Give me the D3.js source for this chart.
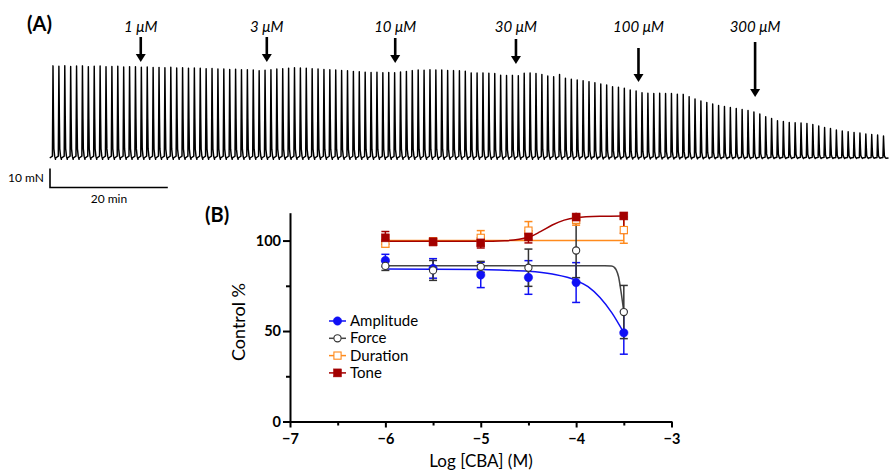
<!doctype html>
<html>
<head>
<meta charset="utf-8">
<script src="https://d3js.org/d3.v7.min.js"></script>
<style>
body {margin: 0; background: white;}
svg text {font-family: Lato, "Open Sans", sans-serif;}
</style>
</head>
<body>
<svg id="fig" width="890" height="473"></svg>
<script>
// ---------------- (A) trace data ----------------
// peak force of each contraction (mN), one per minute
var spikePeaks = [
  48.5, 48.3, 48.6, 48.2, 48.4, 48.5, 48.1, 48.3, 48.4, 48.0, 48.2, 48.3, 47.9, 48.1, 48.0,
  47.8, 47.9, 47.6, 47.7, 47.5, 47.8, 47.4, 47.5, 47.3, 47.4,
  47.2, 47.0, 47.1, 46.8, 46.9, 46.6, 46.7, 46.4, 46.5, 46.3,
  45.9, 46.2, 46.5, 46.8, 47.0, 47.3, 47.5, 47.4,
  47.2, 47.0, 46.8, 46.6, 46.5, 46.3, 46.1, 45.9,
  45.6, 45.4, 45.2, 45.0, 45.1, 44.9, 45.0, 44.9,
  45.3, 45.6, 46.0, 46.3, 46.2, 46.4, 46.3,
  46.3, 46.1, 46.0, 45.9, 45.7,
  44.8, 44.7, 44.8, 44.6, 44.5,
  43.6, 43.4, 43.5, 43.3,
  44.6, 44.7, 44.5, 44.0,
  43.2, 42.8, 44.0,
  42.0, 41.4, 41.1, 40.7,
  40.2, 39.6, 38.9, 38.4, 37.5,
  37.2, 36.7, 35.8, 35.3, 34.4,
  34.1, 34.0, 34.1, 33.9, 34.0,
  33.6,
  33.5, 32.3, 31.1, 30.0, 29.2, 28.4, 27.6, 27.1, 26.6, 26.1,
  25.5, 25.0, 24.2, 23.2, 21.7, 20.8, 19.6, 19.2, 18.7, 18.6,
  18.4, 18.2, 17.6, 16.8, 16.1, 15.5, 14.7, 14.2, 13.8, 13.4,
  13.2, 12.6, 12.4, 12.1, 11.6
];
var doseLabels = ["1 \u03bcM", "3 \u03bcM", "10 \u03bcM", "30 \u03bcM", "100 \u03bcM", "300 \u03bcM"];
var doseTimes = [14.9, 36.3, 58.1, 78.6, 99.4, 119.2];   // min

// ---------------- (B) concentration-response data ----------------
var logDose = [-6, -5.5, -5, -4.5, -4, -3.5];
var amplitudeMean = [89, 84.6, 81, 79.6, 76.8, 49];
var amplitudeSem  = [3.4, 5.4, 7, 9.3, 11, 11.8];
var forceMean = [86, 83.5, 85.5, 85, 94.5, 60.5];
var forceSem  = [2.5, 5.5, 3, 10.3, 15, 14.7];
var durationMean = [98.3, 99.5, 101.5, 105.5, 111.5, 105.8];
var durationSem  = [2, 2, 4, 5, 3, 7.3];
var toneMean = [101.5, 99.3, 98.7, 102, 113, 113.6];
var toneSem  = [3.5, 2, 2.8, 3.3, 2.5, 9.6];

// fitted curves
var amplitudeFitX = [-6, -5.5, -5, -4.75, -4.5, -4.25, -4, -3.875, -3.75, -3.625, -3.5];
var amplitudeFitY = [84.3, 84.2, 84.0, 83.6, 83.1, 81.5, 78, 74.5, 68.5, 60, 49];
var forceFitX = [-6, -3.7, -3.63, -3.6, -3.58, -3.555, -3.53, -3.5];
var forceFitY = [86.1, 86.1, 86.0, 85.2, 83.8, 80, 72, 60.5];
var durationFitX = [-6, -3.5];
var durationFitY = [100, 100];
var toneFitX = [-6, -5, -4.75, -4.5, -4.375, -4.25, -4.125, -4, -3.75, -3.5];
var toneFitY = [99.6, 99.6, 99.9, 101.8, 104.9, 108.6, 111.3, 112.6, 113.4, 113.6];

var yTicks = [0, 50, 100];
var yMinor = [25, 75];
var xTicks = [-7, -6, -5, -4, -3];
var xMinor = [-6.5, -5.5, -4.5, -3.5];

var svg = d3.select("#fig");

// ================= panel A =================
var xT = d3.scaleLinear().domain([0, spikePeaks.length - 1]).range([53, 883.5]);
var yT = d3.scaleLinear().domain([0, 10]).range([158, 139]);

// contraction shape around each peak (min offset, fraction of peak)
var shape = [[-0.55, 0], [-0.1, 0.02], [0, 1], [0.08, 0.45], [0.15, 0.1], [0.28, 0.02], [0.42, -0.015]];
var tracePts = [];
spikePeaks.forEach(function(p, i) {
  shape.forEach(function(s) { tracePts.push([i + s[0], p * s[1]]); });
});
tracePts.push([spikePeaks.length - 1 + 0.85, 0]);

svg.append("path")
  .attr("d", d3.line().x(function(d) { return xT(d[0]); }).y(function(d) { return yT(d[1]); })(tracePts))
  .attr("fill", "none")
  .attr("stroke", "#000")
  .attr("stroke-width", 1.45)
  .attr("stroke-linejoin", "round");

svg.append("text").attr("x", 27).attr("y", 31)
  .style("font-size", "20px").style("font-weight", "bold").text("(A)");

// dose arrows
var arrowTop = [37, 37, 38, 39, 48, 42];
var arrowTip = [62, 62, 63, 64, 82, 97];
doseTimes.forEach(function(t, i) {
  var ax = xT(t);
  svg.append("line").attr("x1", ax).attr("x2", ax)
    .attr("y1", arrowTop[i]).attr("y2", arrowTip[i] - 6)
    .attr("stroke", "#000").attr("stroke-width", 2.6);
  svg.append("path")
    .attr("d", "M" + (ax - 5) + "," + (arrowTip[i] - 8) + "L" + (ax + 5) + "," + (arrowTip[i] - 8) + "L" + ax + "," + arrowTip[i] + "Z")
    .attr("fill", "#000");
  svg.append("text").attr("x", ax).attr("y", 32)
    .attr("text-anchor", "middle")
    .style("font-size", "15px").style("font-style", "italic")
    .text(doseLabels[i]);
});

// scale bar
var sbX = 50, sbY = 187.5;
svg.append("path")
  .attr("d", "M" + sbX + "," + (sbY - (yT(0) - yT(10))) + "V" + sbY + "H" + (sbX + xT(20) - xT(0)))
  .attr("fill", "none").attr("stroke", "#000").attr("stroke-width", 1.6);
svg.append("text").attr("x", 44).attr("y", 182).attr("text-anchor", "end")
  .style("font-size", "12px").text("10 mN");
svg.append("text").attr("x", sbX + (xT(20) - xT(0)) / 2).attr("y", 203).attr("text-anchor", "middle")
  .style("font-size", "12px").text("20 min");

// ================= panel B =================
var xB = d3.scaleLinear().domain([-7, -3]).range([290, 671.5]);
var yB = d3.scaleLinear().domain([0, 115.4]).range([421.5, 212.7]);

svg.append("text").attr("x", 205).attr("y", 222)
  .style("font-size", "20px").style("font-weight", "bold").text("(B)");

var gy = svg.append("g").attr("transform", "translate(" + xB(-7) + ",0)");
gy.call(d3.axisLeft(yB).tickValues(yTicks).tickSize(7).tickSizeOuter(0).tickPadding(2).tickFormat(d3.format("d")));
gy.append("g").call(d3.axisLeft(yB).tickValues(yMinor).tickSize(4).tickFormat(""))
  .select(".domain").remove();
var gx = svg.append("g").attr("transform", "translate(0," + yB(0) + ")");
gx.call(d3.axisBottom(xB).tickValues(xTicks).tickSize(6).tickSizeOuter(0).tickPadding(6).tickFormat(d3.format("d")));
gx.append("g").call(d3.axisBottom(xB).tickValues(xMinor).tickSize(4).tickFormat(""))
  .select(".domain").remove();
svg.selectAll(".domain, .tick line").attr("stroke", "#000").attr("stroke-width", 2);
gy.selectAll("text").style("font-size", "14.5px").style("font-weight", "bold")
  .style("font-family", "Lato, sans-serif").attr("fill", "#000");
gx.selectAll("text").style("font-size", "14.5px").style("font-weight", "bold")
  .style("font-family", "Lato, sans-serif").attr("fill", "#000");

svg.append("text")
  .attr("transform", "translate(245,322) rotate(-90)")
  .attr("text-anchor", "middle").style("font-size", "18px").text("Control %");
svg.append("text").attr("x", 481).attr("y", 467)
  .attr("text-anchor", "middle").style("font-size", "17px").text("Log [CBA] (M)");

var series = [
  {name: "Amplitude", color: "#1010f5", line: "#1010f5", mean: amplitudeMean, sem: amplitudeSem, fx: amplitudeFitX, fy: amplitudeFitY, sym: "circle", fill: true},
  {name: "Force", color: "#333", line: "#444", mean: forceMean, sem: forceSem, fx: forceFitX, fy: forceFitY, sym: "circle", fill: false},
  {name: "Duration", color: "#ff8a1c", line: "#ff8a1c", mean: durationMean, sem: durationSem, fx: durationFitX, fy: durationFitY, sym: "square", fill: false},
  {name: "Tone", color: "#a30000", line: "#a30000", mean: toneMean, sem: toneSem, fx: toneFitX, fy: toneFitY, sym: "square", fill: true}
];

var fitLine = d3.line().curve(d3.curveMonotoneX)
  .x(function(d) { return xB(d[0]); }).y(function(d) { return yB(d[1]); });

function drawSymbol(g, s, cx, cy) {
  if (s.sym === "circle") {
    g.append("circle").attr("cx", cx).attr("cy", cy).attr("r", s.fill ? 4.2 : 3.6)
      .attr("fill", s.fill ? s.color : "#fff").attr("stroke", s.color).attr("stroke-width", s.fill ? 0.5 : 1.1);
  } else {
    var h = s.fill ? 4 : 3.6;
    g.append("rect").attr("x", cx - h).attr("y", cy - h).attr("width", 2 * h).attr("height", 2 * h)
      .attr("fill", s.fill ? s.color : "#fff").attr("stroke", s.color).attr("stroke-width", s.fill ? 0.5 : 1.1);
  }
}

var yMax = yB.domain()[1];
series.forEach(function(s) {
  svg.append("path")
    .attr("d", fitLine(d3.zip(s.fx, s.fy)))
    .attr("fill", "none").attr("stroke", s.line).attr("stroke-width", 1.5);
});
series.forEach(function(s) {
  var g = svg.append("g");
  logDose.forEach(function(x, i) {
    var cx = xB(x);
    var hi = Math.min(s.mean[i] + s.sem[i], yMax), lo = s.mean[i] - s.sem[i];
    g.append("line").attr("x1", cx).attr("x2", cx).attr("y1", yB(hi)).attr("y2", yB(lo))
      .attr("stroke", s.color).attr("stroke-width", 1.5);
    [lo].concat(s.mean[i] + s.sem[i] <= yMax ? [hi] : []).forEach(function(v) {
      g.append("line").attr("x1", cx - 4).attr("x2", cx + 4).attr("y1", yB(v)).attr("y2", yB(v))
        .attr("stroke", s.color).attr("stroke-width", 1.5);
    });
  });
});
series.forEach(function(s) {
  var g = svg.append("g");
  logDose.forEach(function(x, i) { drawSymbol(g, s, xB(x), yB(s.mean[i])); });
});

// legend
series.forEach(function(s, i) {
  var ly = 321 + i * 17.3;
  var g = svg.append("g");
  g.append("line").attr("x1", 329).attr("x2", 346).attr("y1", ly).attr("y2", ly)
    .attr("stroke", s.line).attr("stroke-width", 1.5);
  drawSymbol(g, s, 337.5, ly);
  g.append("text").attr("x", 350).attr("y", ly + 5).style("font-size", "15px").text(s.name);
});
</script>
</body>
</html>
